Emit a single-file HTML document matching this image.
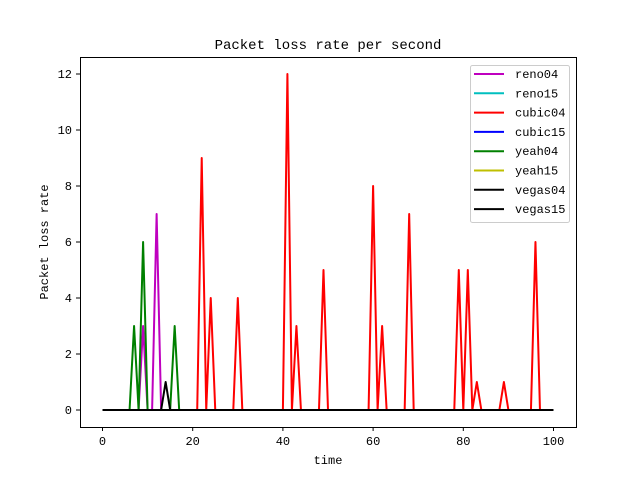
<!DOCTYPE html>
<html><head><style>body{margin:0;background:#fff}svg text{font-family:"Liberation Mono",monospace;fill:#000}</style></head>
<body>
<svg width="640" height="480" xmlns="http://www.w3.org/2000/svg">
<rect width="640" height="480" fill="#fff"/>
<g transform="translate(102.5,410) scale(4.51,-28)" fill="none" stroke-width="2" stroke-linejoin="round">
<polyline vector-effect="non-scaling-stroke" stroke="#bf00bf" points="0,0 8,0 9,3 10,0 11,0 12,7 13,0 100,0"/>
<polyline vector-effect="non-scaling-stroke" stroke="#00bfbf" points="0,0 100,0"/>
<polyline vector-effect="non-scaling-stroke" stroke="#ff0000" points="0,0 21,0 22,9 23,0 24,4 25,0 29,0 30,4 31,0 40,0 41,12 42,0 43,3 44,0 48,0 49,5 50,0 59,0 60,8 61,0 62,3 63,0 67,0 68,7 69,0 78,0 79,5 80,0 81,5 82,0 83,1 84,0 88,0 89,1 90,0 95,0 96,6 97,0 100,0"/>
<polyline vector-effect="non-scaling-stroke" stroke="#0000ff" points="0,0 100,0"/>
<polyline vector-effect="non-scaling-stroke" stroke="#008000" points="0,0 6,0 7,3 8,0 9,6 10,0 15,0 16,3 17,0 100,0"/>
<polyline vector-effect="non-scaling-stroke" stroke="#bfbf00" points="0,0 100,0"/>
<polyline vector-effect="non-scaling-stroke" stroke="#000" points="0,0 13,0 14,1 15,0 100,0"/>
<polyline vector-effect="non-scaling-stroke" stroke="#000" points="0,0 100,0"/>
</g>
<rect x="80.5" y="57.5" width="496" height="370" fill="none" stroke="#000" stroke-width="1"/>
<g stroke="#000" stroke-width="1">
<line x1="102.5" y1="427" x2="102.5" y2="431"/><line x1="192.7" y1="427" x2="192.7" y2="431"/><line x1="282.9" y1="427" x2="282.9" y2="431"/><line x1="373.1" y1="427" x2="373.1" y2="431"/><line x1="463.3" y1="427" x2="463.3" y2="431"/><line x1="553.5" y1="427" x2="553.5" y2="431"/>
<line x1="76" y1="410" x2="80" y2="410"/><line x1="76" y1="354" x2="80" y2="354"/><line x1="76" y1="298" x2="80" y2="298"/><line x1="76" y1="242" x2="80" y2="242"/><line x1="76" y1="186" x2="80" y2="186"/><line x1="76" y1="130" x2="80" y2="130"/><line x1="76" y1="74" x2="80" y2="74"/>
</g>
<g font-size="12" text-anchor="middle">
<text x="102.5" y="445">0</text><text x="192.7" y="445">20</text><text x="282.9" y="445">40</text><text x="373.1" y="445">60</text><text x="463.3" y="445">80</text><text x="553.5" y="445">100</text>
</g>
<g font-size="12" text-anchor="end">
<text x="72" y="414">0</text><text x="72" y="358">2</text><text x="72" y="302">4</text><text x="72" y="246">6</text><text x="72" y="190">8</text><text x="72" y="134">10</text><text x="72" y="78">12</text>
</g>
<text x="328" y="464" font-size="12" text-anchor="middle">time</text>
<text x="48" y="242" font-size="12" text-anchor="middle" transform="rotate(-90 48 242)">Packet loss rate</text>
<text x="328" y="49" font-size="14" text-anchor="middle">Packet loss rate per second</text>
<rect x="470.5" y="65.5" width="99" height="157" rx="2" fill="#fff" stroke="#ccc"/>
<g stroke-width="2">
<line x1="474" y1="74" x2="504" y2="74" stroke="#bf00bf"/>
<line x1="474" y1="93.3" x2="504" y2="93.3" stroke="#00bfbf"/>
<line x1="474" y1="112.6" x2="504" y2="112.6" stroke="#ff0000"/>
<line x1="474" y1="131.9" x2="504" y2="131.9" stroke="#0000ff"/>
<line x1="474" y1="151.2" x2="504" y2="151.2" stroke="#008000"/>
<line x1="474" y1="170.5" x2="504" y2="170.5" stroke="#bfbf00"/>
<line x1="474" y1="189.8" x2="504" y2="189.8" stroke="#000"/>
<line x1="474" y1="209.1" x2="504" y2="209.1" stroke="#000"/>
</g>
<g font-size="12">
<text x="515" y="78">reno04</text><text x="515" y="97.3">reno15</text><text x="515" y="116.6">cubic04</text><text x="515" y="135.9">cubic15</text><text x="515" y="155.2">yeah04</text><text x="515" y="174.5">yeah15</text><text x="515" y="193.8">vegas04</text><text x="515" y="213.1">vegas15</text>
</g>
</svg>
</body></html>
